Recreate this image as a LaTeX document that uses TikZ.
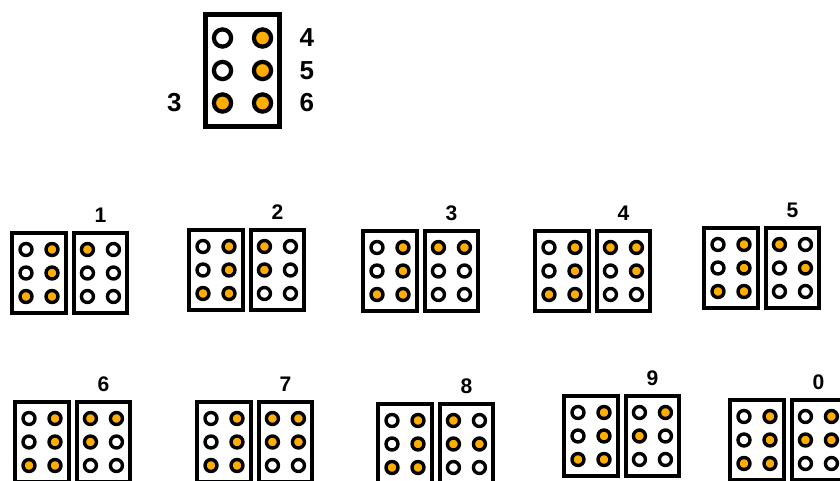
\documentclass[tikz,border=0pt]{standalone}
\usepackage{fontspec}
\setmainfont{Liberation Sans}
\usepackage{tikz}
\usetikzlibrary{positioning,calc}
\definecolor{amber}{HTML}{FFAD00}
\definecolor{ink}{HTML}{000000}
\tikzset{
    cellbox/.style={draw=ink,line width=3pt,line join=miter,
      minimum width=1.34cm,minimum height=2.01cm,inner sep=0pt},
    bigbox/.style={draw=ink,line width=3.4pt,line join=miter,
      minimum width=1.85cm,minimum height=2.8cm,inner sep=0pt},
    dot0/.style={circle,draw=ink,fill=white,line width=2.4pt,
      minimum size=0.3cm,inner sep=0pt},
    dot1/.style={dot0,fill=amber},
    bigdot0/.style={circle,draw=ink,fill=white,line width=3pt,
      minimum size=0.43cm,inner sep=0pt},
    bigdot1/.style={bigdot0,fill=amber},
    numlabel/.style={font=\bfseries\fontsize{15}{15}\selectfont,inner sep=0pt},
    biglabel/.style={font=\bfseries\fontsize{18.5}{18.5}\selectfont,inner sep=0pt}
}

\begin{document}
\begin{tikzpicture}[x=0.025cm,y=-0.025cm]
  \useasboundingbox (0,0) rectangle (840,480);
  % number sign, dots 3-4-5-6
  \node[bigbox] (sign) at (242.5,70.5) {};
  \foreach \s [count=\d] in {0,0,1,1,1,1} {
    \pgfmathsetmacro\dx{int((\d-1)/3)*40-20}
    \pgfmathsetmacro\dy{mod(\d-1,3)*32.5-32.5}
    \node[bigdot\s] (s\d) at ($(sign)+(\dx,\dy)$) {};
  }
  \node[biglabel,right=0.65cm of s4] (lab4) {4};
  \node[biglabel,right=0.65cm of s5] (lab5) {5};
  \node[biglabel,right=0.65cm of s6] (lab6) {6};
  \node[biglabel,left=0.75cm of s3] (lab3) {3};
  % digits: number sign + letter a..j
  \foreach \n/\cx/\cy/\pat in {1/39/273/{1,0,0,0,0,0},2/216/270/{1,1,0,0,0,0},
      3/390/271/{1,0,0,1,0,0},4/562/271/{1,0,0,1,1,0},5/731/268/{1,0,0,0,1,0},
      6/42/442/{1,1,0,1,0,0},7/224/442/{1,1,0,1,1,0},8/405/444/{1,1,0,0,1,0},
      9/591/436/{0,1,0,1,0,0},0/757/440/{0,1,0,1,1,0}} {
    \node[cellbox] (l\n) at (\cx,\cy) {};
    \node[cellbox,right=0.09cm of l\n] (r\n) {};
    \node[numlabel,above=0.2cm of r\n] (n\n) {\n};
    \foreach \s [count=\d] in {0,0,1,1,1,1} {
      \pgfmathsetmacro\dx{int((\d-1)/3)*26-13}
      \pgfmathsetmacro\dy{mod(\d-1,3)*23.5-23.5}
      \node[dot\s] (l\n-\d) at ($(l\n)+(\dx,\dy)$) {};
    }
    \foreach \s [count=\d] in \pat {
      \pgfmathsetmacro\dx{int((\d-1)/3)*26-13}
      \pgfmathsetmacro\dy{mod(\d-1,3)*23.5-23.5}
      \node[dot\s] (r\n-\d) at ($(r\n)+(\dx,\dy)$) {};
    }
  }
\end{tikzpicture}
\end{document}
